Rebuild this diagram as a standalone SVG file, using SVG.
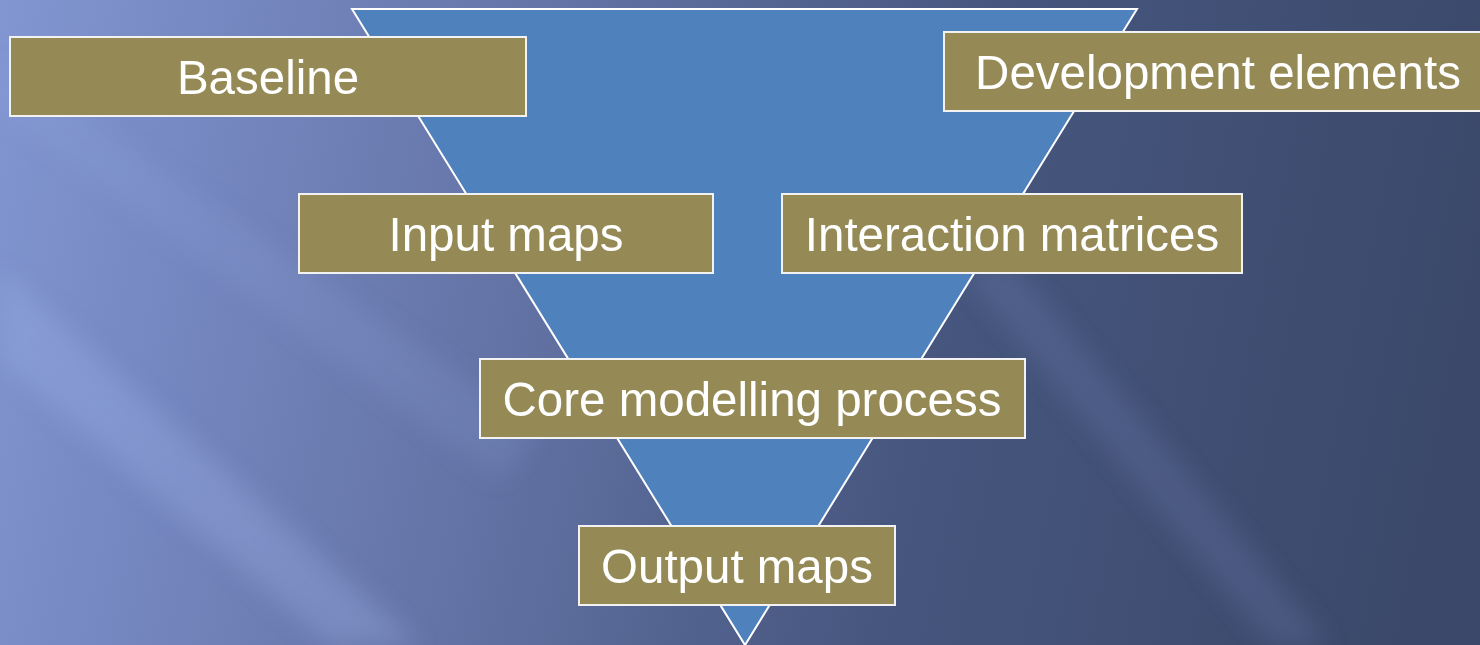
<svg xmlns="http://www.w3.org/2000/svg" width="1480" height="645" viewBox="0 0 1480 645">
<defs>
<linearGradient id="bg" x1="0" y1="0" x2="1480" y2="300" gradientUnits="userSpaceOnUse">
<stop offset="0" stop-color="#8296d2"/>
<stop offset="0.35" stop-color="#6575a8"/>
<stop offset="0.65" stop-color="#46567e"/>
<stop offset="1" stop-color="#3b486a"/>
</linearGradient>
<filter id="blur" x="-20%" y="-20%" width="140%" height="140%"><feGaussianBlur stdDeviation="12"/></filter>
<style>
.box{fill:#958a55;stroke:#f2f2f2;stroke-width:2}
.lbl{font-family:"Liberation Sans",Arial,sans-serif;font-size:47.5px;fill:#ffffff;text-anchor:middle;dominant-baseline:central}
</style>
</defs>
<rect x="0" y="0" width="1480" height="645" fill="url(#bg)"/>
<g filter="url(#blur)">
<polygon points="0,270 0,360 330,645 420,645" fill="#9fb3ea" opacity="0.3"/>
<polygon points="0,60 0,110 500,480 540,430" fill="#9aaee6" opacity="0.15"/>
<polygon points="960,270 1010,260 1330,645 1270,645" fill="#7f90c8" opacity="0.2"/>
</g>
<g id="funnel">
<polygon points="352,9 1137,9 745,645" fill="#4f81bd" stroke="#ffffff" stroke-width="2"/>
</g>
<g id="connectors"></g>
<g id="baseline"><rect class="box" x="10" y="37" width="516" height="79"/><text class="lbl" x="268" y="77">Baseline</text></g>
<g id="development"><rect class="box" x="944" y="32" width="540" height="79"/><text class="lbl" x="1218" y="72">Development elements</text></g>
<g id="input"><rect class="box" x="299" y="194" width="414" height="79"/><text class="lbl" x="506" y="234">Input maps</text></g>
<g id="interaction"><rect class="box" x="782" y="194" width="460" height="79"/><text class="lbl" x="1012" y="234">Interaction matrices</text></g>
<g id="core"><rect class="box" x="480" y="359" width="545" height="79"/><text class="lbl" x="752" y="399">Core modelling process</text></g>
<g id="output"><rect class="box" x="579" y="526" width="316" height="79"/><text class="lbl" x="737" y="566">Output maps</text></g>
</svg>
